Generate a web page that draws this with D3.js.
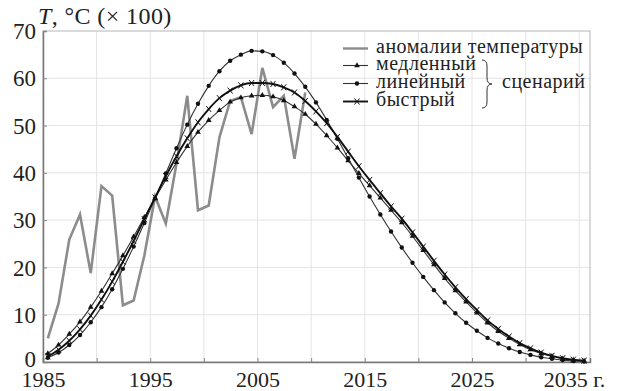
<!DOCTYPE html>
<html>
<head>
<script src="https://cdn.jsdelivr.net/npm/d3@7"></script>
<style>
  text, tspan { font-family: "Liberation Serif", Tinos, "Times New Roman", serif !important; }
</style>
</head>
<body style="margin:0">
<svg id="chart" width="619" height="391"></svg>
<script>
// Years of the model scenarios (one marker per year)
let modelYears = d3.range(1985, 2036);
let anomalyYears = d3.range(1985, 2010);

// Temperature anomalies (x100)
let anomaly = [5.0, 12.4, 25.9, 31.2, 18.8, 37.2, 35.2, 12.0, 13.0, 22.5,
    35.0, 29.3, 42.0, 56.3, 32.1, 33.1, 47.5, 55.2, 56.0, 48.2,
    62.2, 53.9, 56.3, 43.0, 57.0];

// Scenarios
let slow = [1.8, 3.6, 5.9, 8.5, 11.6, 15.0, 18.7, 22.5, 26.5, 30.6,
    34.6, 38.5, 42.2, 45.6, 48.6, 51.1, 53.2, 55.0, 55.9, 56.3,
    56.4, 56.1, 55.3, 54.0, 52.4, 50.3, 47.9, 45.3, 42.6, 39.9,
    37.3, 34.7, 32.1, 29.5, 26.6, 23.6, 20.6, 17.7, 15.1, 12.7,
    10.4, 8.3, 6.5, 5.0, 3.7, 2.6, 1.8, 1.2, 0.7, 0.4, 0.2];
let linear = [0.9, 2.0, 3.6, 5.7, 8.4, 11.6, 15.4, 19.7, 24.4, 29.4,
    34.6, 39.9, 45.2, 50.2, 54.6, 58.4, 61.5, 63.7, 65.0, 65.8,
    65.7, 64.9, 63.3, 61.0, 58.2, 54.9, 51.2, 47.2, 43.1, 39.0,
    35.0, 31.2, 27.6, 24.2, 21.0, 18.0, 15.2, 12.6, 10.3, 8.3,
    6.6, 5.1, 3.9, 2.9, 2.1, 1.5, 1.0, 0.7, 0.4, 0.2, 0.1];
let fast = [1.2, 2.6, 4.5, 6.9, 9.8, 13.2, 17.0, 21.2, 25.6, 30.2,
    34.8, 39.3, 43.5, 47.3, 50.7, 53.5, 55.8, 57.4, 58.5, 59.0,
    59.0, 58.8, 58.1, 57.0, 55.2, 53.0, 50.5, 47.6, 44.5, 41.4,
    38.5, 35.7, 32.9, 30.3, 27.4, 24.4, 21.4, 18.5, 15.8, 13.3,
    11.0, 8.8, 7.0, 5.4, 4.0, 2.9, 2.0, 1.3, 0.8, 0.5, 0.3];

let xTicks = [1985, 1995, 2005, 2015, 2025, 2035];
let yTicks = [0, 10, 20, 30, 40, 50, 60, 70];
let legendLabels = ['аномалии температуры', 'медленный', 'линейный', 'быстрый'];

let fontName = 'Liberation Serif';
let svg = d3.select('#chart').attr('font-family', fontName);
let plotLeft = 43, plotRight = 590, plotTop = 31, plotBottom = 362;
let midYear = 0.45; // yearly values sit inside the year

let x = d3.scaleLinear().domain([1985, 2036]).range([plotLeft, plotRight]);
let y = d3.scaleLinear().domain([0, 70]).range([plotBottom, plotTop]);

// Grid
svg.append('g')
    .selectAll('line')
    .data(d3.range(1990, 2036, 5))
    .enter()
    .append('line')
    .attr('x1', (d) => x(d)).attr('x2', (d) => x(d))
    .attr('y1', plotTop).attr('y2', plotBottom)
    .attr('stroke', '#e4e4e4').attr('stroke-width', 1);
svg.append('g')
    .selectAll('line')
    .data(yTicks.slice(1, -1))
    .enter()
    .append('line')
    .attr('x1', plotLeft).attr('x2', plotRight)
    .attr('y1', (d) => y(d)).attr('y2', (d) => y(d))
    .attr('stroke', '#e4e4e4').attr('stroke-width', 1);

// Frame
svg.append('rect')
    .attr('x', plotLeft).attr('y', plotTop)
    .attr('width', plotRight - plotLeft).attr('height', plotBottom - plotTop)
    .attr('fill', 'none').attr('stroke', '#b5b5b5').attr('stroke-width', 1);

// Axes
let xAxis = svg.append('g')
    .attr('transform', `translate(0,${plotBottom})`)
    .call(d3.axisBottom(x).tickValues(d3.range(1985, 2036, 5)).tickSize(-4)
        .tickFormat((d) => xTicks.includes(d) ? (d === 2035 ? '2035 г.' : d) : ''));
xAxis.attr('font-family', fontName);
xAxis.select('.domain').attr('stroke', '#777').attr('stroke-width', 1.5);
xAxis.selectAll('.tick line').attr('stroke', '#888');
xAxis.selectAll('text')
    .attr('font-size', 22).attr('fill', '#222')
    .attr('y', 25).attr('dy', 0)
    .attr('text-anchor', (d) => d === 2035 ? 'start' : 'middle')
    .attr('dx', (d) => d === 2035 ? -36 : 0);

let yAxis = svg.append('g')
    .attr('transform', `translate(${plotLeft},0)`)
    .call(d3.axisLeft(y).tickValues(yTicks).tickSize(-4).tickPadding(7));
yAxis.attr('font-family', fontName);
yAxis.select('.domain').attr('stroke', '#777').attr('stroke-width', 1.5);
yAxis.selectAll('.tick line').attr('stroke', '#888');
yAxis.selectAll('text')
    .attr('font-size', 23).attr('fill', '#222')
    .attr('dy', (d) => d === 0 ? '0.2em' : '0.33em');

// Axis title
let title = svg.append('text')
    .attr('x', 38).attr('y', 24)
    .attr('font-size', 24).attr('fill', '#222')
    .attr('letter-spacing', 0.4);
title.append('tspan').attr('font-style', 'italic').text('T');
title.append('tspan').text(', °C (× 100)');

// Anomalies
let anomalyLine = d3.line()
    .x((d, i) => x(anomalyYears[i] + midYear))
    .y((d) => y(d));
svg.append('path')
    .datum(anomaly)
    .attr('fill', 'none')
    .attr('stroke', '#8c8c8c')
    .attr('stroke-width', 2.6)
    .attr('d', anomalyLine);

// Scenario curves
let modelLine = d3.line()
    .x((d, i) => x(modelYears[i] + midYear))
    .y((d) => y(d))
    .curve(d3.curveMonotoneX);

let scenarios = [
    { values: slow, marker: 'triangle', width: 1.1, color: '#333' },
    { values: linear, marker: 'dot', width: 1.1, color: '#333' },
    { values: fast, marker: 'cross', width: 1.9, color: '#111' }
];

let drawMarker = (g, kind, cx, cy) => {
    if (kind === 'dot') {
        g.append('circle').attr('cx', cx).attr('cy', cy).attr('r', 2.2).attr('fill', '#111');
    } else if (kind === 'triangle') {
        g.append('path')
            .attr('d', d3.symbol().type(d3.symbolTriangle).size(14)())
            .attr('transform', `translate(${cx},${cy})`)
            .attr('fill', '#111');
    } else {
        g.append('path')
            .attr('d', `M${cx - 2.5},${cy - 3}L${cx + 2.5},${cy + 3}M${cx + 2.5},${cy - 3}L${cx - 2.5},${cy + 3}`)
            .attr('stroke', '#111').attr('stroke-width', 1);
    }
};

scenarios.forEach((s) => {
    svg.append('path')
        .datum(s.values)
        .attr('fill', 'none')
        .attr('stroke', s.color)
        .attr('stroke-width', s.width)
        .attr('d', modelLine);
    let g = svg.append('g');
    s.values.forEach((v, i) => drawMarker(g, s.marker, x(modelYears[i] + midYear), y(v)));
});

// Legend
let legend = svg.append('g');
let rowY = [48.5, 65.5, 83.5, 101.5];
legendLabels.forEach((label, i) => {
    let ly = rowY[i];
    if (i === 0) {
        legend.append('line')
            .attr('x1', 343).attr('x2', 368).attr('y1', ly).attr('y2', ly)
            .attr('stroke', '#8c8c8c').attr('stroke-width', 2.4);
    } else {
        let s = scenarios[i - 1];
        legend.append('line')
            .attr('x1', 343).attr('x2', 368).attr('y1', ly).attr('y2', ly)
            .attr('stroke', s.color).attr('stroke-width', s.width);
        drawMarker(legend, s.marker, 357, ly);
    }
    legend.append('text')
        .attr('x', 376).attr('y', ly + 4.5)
        .attr('font-size', 20).attr('fill', '#222')
        .attr('letter-spacing', 0.5)
        .text(label);
});

// Brace for the scenarios
legend.append('path')
    .attr('d', 'M482,60 q5,0 5,6 v12 q0,6 5,6 q-5,0 -5,6 v12 q0,6 -5,6')
    .attr('fill', 'none').attr('stroke', '#333').attr('stroke-width', 1);
legend.append('text')
    .attr('x', 502).attr('y', 83.5 + 4.5)
    .attr('font-size', 20).attr('fill', '#222')
    .attr('letter-spacing', 0.5)
    .text('сценарий');

// Serif type everywhere, as in the printed figure
svg.selectAll('text').style('font-family', fontName);
</script>
</body>
</html>
